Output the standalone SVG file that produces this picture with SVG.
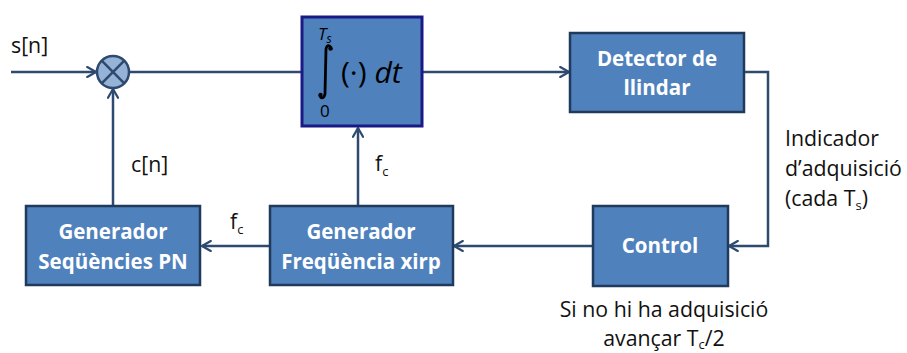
<svg xmlns="http://www.w3.org/2000/svg" width="907" height="353" viewBox="0 0 907 353">
  <style>
    .box { fill: #4f81bd; stroke: #203a5c; stroke-width: 2.5; }
    .btxt { font-family: "Open Sans", "Liberation Sans", sans-serif; font-weight: bold; font-size: 20.5px; fill: #ffffff; text-anchor: middle; }
    .lbl { font-family: "Open Sans", "Liberation Sans", sans-serif; font-size: 21.3px; fill: #111111; }
    .sub { font-size: 13px; }
    .wire { fill: none; stroke: #2e4a6e; stroke-width: 2.5; }
  </style>
  <defs>
    <marker id="arr" viewBox="0 0 10 10" refX="9" refY="5" markerWidth="5" markerHeight="5" orient="auto" markerUnits="strokeWidth">
      <path d="M2,1 L9,5 L2,9" fill="none" stroke="#2e4a6e" stroke-width="1.8" stroke-linecap="round" stroke-linejoin="round"/>
    </marker>
  </defs>

  <!-- connectors -->
  <g id="connectors">
    <line class="wire" x1="11" y1="72" x2="96" y2="72" marker-end="url(#arr)"/>
    <line class="wire" x1="129" y1="72" x2="302" y2="72"/>
    <line class="wire" x1="422" y1="72" x2="569" y2="72" marker-end="url(#arr)"/>
    <polyline class="wire" points="744,72 768,72 768,246 729,246" marker-end="url(#arr)"/>
    <line class="wire" x1="593" y1="246" x2="454" y2="246" marker-end="url(#arr)"/>
    <line class="wire" x1="270" y1="246" x2="202" y2="246" marker-end="url(#arr)"/>
    <line class="wire" x1="358" y1="206" x2="358" y2="128" marker-end="url(#arr)"/>
    <line class="wire" x1="113" y1="206" x2="113" y2="89" marker-end="url(#arr)"/>
  </g>

  <!-- multiplier -->
  <g id="mixer">
    <circle cx="113" cy="72" r="16" fill="#95b3d7" stroke="#2e4a6e" stroke-width="2.5"/>
    <line x1="101.7" y1="60.7" x2="124.3" y2="83.3" stroke="#2e4a6e" stroke-width="2.5"/>
    <line x1="124.3" y1="60.7" x2="101.7" y2="83.3" stroke="#2e4a6e" stroke-width="2.5"/>
  </g>

  <!-- integrator -->
  <g id="integrator">
    <rect x="302" y="17" width="120" height="109" fill="#4f81bd" stroke="#1a1a86" stroke-width="3"/>
    <text x="318" y="40" font-family="Open Sans, Liberation Sans, sans-serif" font-style="italic" font-size="17" fill="#000">T<tspan font-size="12" dy="3">s</tspan></text>
    <path d="M331,50 C331,45 327,44 326,49 L325,94 C324,99 320,99 320,95" fill="none" stroke="#000" stroke-width="2.8"/>
    <circle cx="330.5" cy="48.5" r="2.2" fill="#000"/>
    <circle cx="320.5" cy="95" r="2.2" fill="#000"/>
    <text x="320" y="117" font-family="Open Sans, Liberation Sans, sans-serif" font-size="17" fill="#000">0</text>
    <text x="341" y="83" font-family="Open Sans, Liberation Sans, sans-serif" font-size="30" fill="#000">(·) <tspan font-style="italic">dt</tspan></text>
  </g>

  <!-- threshold detector -->
  <g id="detector">
    <rect class="box" x="570" y="33" width="174" height="79"/>
    <text class="btxt" x="657" y="66">Detector de</text>
    <text class="btxt" x="657" y="95">llindar</text>
  </g>

  <!-- control -->
  <g id="control">
    <rect class="box" x="593" y="206" width="135" height="80"/>
    <text class="btxt" x="660" y="253">Control</text>
  </g>

  <!-- chirp frequency generator -->
  <g id="chirp-gen">
    <rect class="box" x="270" y="206" width="183" height="79"/>
    <text class="btxt" x="361" y="239">Generador</text>
    <text class="btxt" x="361" y="269">Freqüència xirp</text>
  </g>

  <!-- PN sequence generator -->
  <g id="pn-gen">
    <rect class="box" x="26" y="206" width="174" height="79"/>
    <text class="btxt" x="113" y="239">Generador</text>
    <text class="btxt" x="113" y="269">Seqüències PN</text>
  </g>

  <!-- labels -->
  <g id="labels">
    <text class="lbl" x="11" y="53">s[n]</text>
    <text class="lbl" x="131" y="172">c[n]</text>
    <text class="lbl" x="375" y="171">f<tspan class="sub" dy="5">c</tspan></text>
    <text class="lbl" x="230" y="229">f<tspan class="sub" dy="5">c</tspan></text>
    <text class="lbl" x="785" y="146">Indicador</text>
    <text class="lbl" x="785" y="176">d’adquisició</text>
    <text class="lbl" x="785" y="206">(cada T<tspan class="sub" dy="4">s</tspan><tspan dy="-4">)</tspan></text>
    <text class="lbl" x="664" y="317" text-anchor="middle">Si no hi ha adquisició</text>
    <text class="lbl" x="664" y="346" text-anchor="middle">avançar T<tspan class="sub" dy="3">c</tspan><tspan dy="-3">/2</tspan></text>
  </g>
</svg>
